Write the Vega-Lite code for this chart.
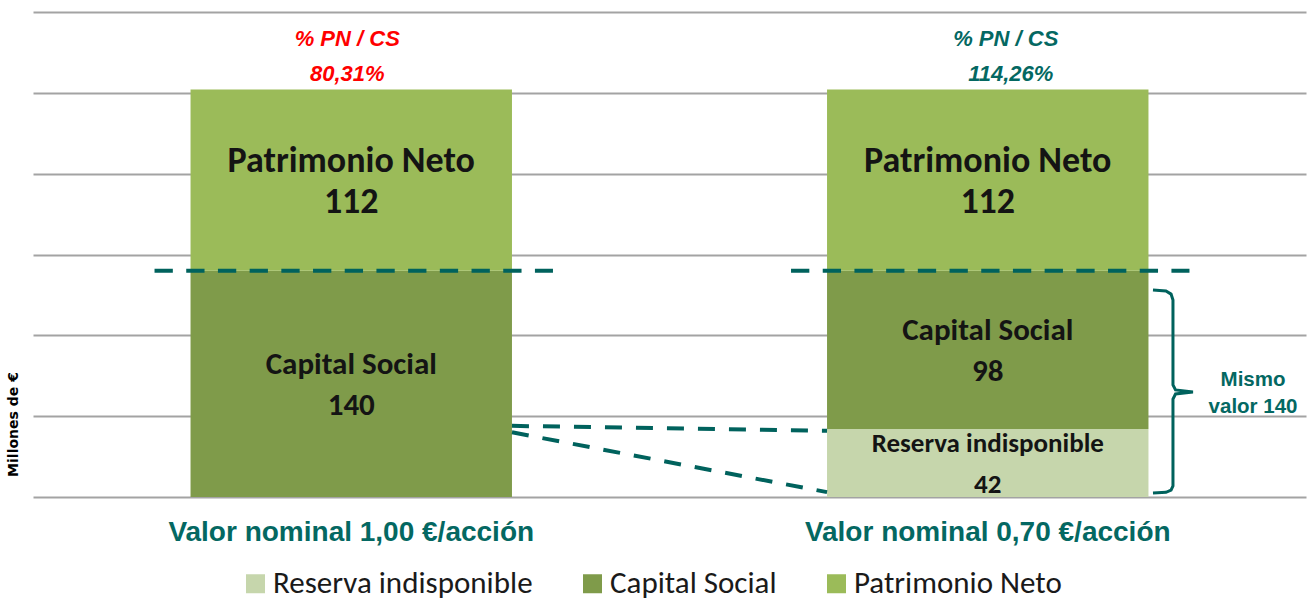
{
  "$schema": "https://vega.github.io/schema/vega-lite/v6.json",
  "width": 1273,
  "height": 485,
  "autosize": {"type": "none"},
  "padding": {"left": 33, "top": 12, "right": 7, "bottom": 104},
  "background": "white",
  "config": {"view": {"stroke": null}},
  "datasets": {
    "bars": [
      {"cat": "Valor nominal 1,00 €/acción", "serie": "Capital Social", "valor": 140, "ord": 2},
      {"cat": "Valor nominal 1,00 €/acción", "serie": "Patrimonio Neto", "valor": 112, "ord": 3},
      {"cat": "Valor nominal 0,70 €/acción", "serie": "Reserva indisponible", "valor": 42, "ord": 1},
      {"cat": "Valor nominal 0,70 €/acción", "serie": "Capital Social", "valor": 98, "ord": 2},
      {"cat": "Valor nominal 0,70 €/acción", "serie": "Patrimonio Neto", "valor": 112, "ord": 3}
    ],
    "ratios": [
      {"cat": "Valor nominal 1,00 €/acción", "ratio": "80,31%"},
      {"cat": "Valor nominal 0,70 €/acción", "ratio": "114,26%"}
    ],
    "cortes": [
      {"cat": "Valor nominal 1,00 €/acción", "capital": 140},
      {"cat": "Valor nominal 0,70 €/acción", "capital": 140}
    ],
    "conectores": [
      {"desde": "Valor nominal 1,00 €/acción", "hasta": "Valor nominal 0,70 €/acción", "y_desde": 44, "y_hasta": 41},
      {"desde": "Valor nominal 1,00 €/acción", "hasta": "Valor nominal 0,70 €/acción", "y_desde": 40, "y_hasta": 3}
    ],
    "llave": [
      {"paso": 1, "bx": 0.8798, "by": 128.0},
      {"paso": 2, "bx": 0.8900, "by": 127.4},
      {"paso": 3, "bx": 0.8940, "by": 125.5},
      {"paso": 4, "bx": 0.8955, "by": 121.8},
      {"paso": 5, "bx": 0.8955, "by": 69.3},
      {"paso": 6, "bx": 0.8975, "by": 66.2},
      {"paso": 7, "bx": 0.9112, "by": 64.9},
      {"paso": 8, "bx": 0.8975, "by": 63.7},
      {"paso": 9, "bx": 0.8955, "by": 60.6},
      {"paso": 10, "bx": 0.8955, "by": 6.8},
      {"paso": 11, "bx": 0.8940, "by": 4.3},
      {"paso": 12, "bx": 0.8900, "by": 2.9},
      {"paso": 13, "bx": 0.8798, "by": 2.5}
    ],
    "nota": [
      {"bx": 0.9584, "by": 72.4, "texto": "Mismo\nvalor 140"}
    ]
  },
  "layer": [
    {
      "encoding": {
        "x": {
          "field": "cat",
          "type": "nominal",
          "scale": {
            "domain": ["Valor nominal 1,00 €/acción", "Valor nominal 0,70 €/acción"],
            "paddingInner": 0.495,
            "paddingOuter": 0.2475
          },
          "axis": {
            "title": null,
            "labelAngle": 0,
            "ticks": false,
            "tickSize": 0,
            "domain": false,
            "labelFont": "Liberation Sans",
            "labelFontWeight": "bold",
            "labelFontSize": 28,
            "labelColor": "#046862",
            "labelBaseline": "middle",
            "labelPadding": 35,
            "labelLimit": 600
          }
        }
      },
      "layer": [
        {
          "data": {"name": "bars"},
          "mark": {"type": "bar"},
          "encoding": {
            "y": {
              "field": "valor",
              "type": "quantitative",
              "stack": "zero",
              "scale": {"domain": [0, 300], "nice": false},
              "axis": {
                "values": [0, 50, 100, 150, 200, 250, 300],
                "grid": true,
                "gridColor": "#a3a3a3",
                "gridWidth": 2,
                "labels": false,
                "ticks": false,
                "domain": false,
                "title": "Millones de €",
                "titleFont": "DejaVu Sans",
                "titleFontWeight": "bold",
                "titleFontSize": 14,
                "titleColor": "#000000",
                "titleAngle": 270,
                "titleBaseline": "middle",
                "titleX": -20,
                "titleY": 412
              }
            },
            "color": {
              "field": "serie",
              "type": "nominal",
              "scale": {
                "domain": ["Reserva indisponible", "Capital Social", "Patrimonio Neto"],
                "range": ["#c6d6ac", "#7f9b4a", "#9bbb59"]
              },
              "legend": {
                "title": null,
                "orient": "none",
                "direction": "horizontal",
                "legendX": 207,
                "legendY": 556,
                "symbolType": "square",
                "symbolSize": 361,
                "symbolStrokeWidth": 0,
                "labelFont": "Carlito, Lato",
                "labelFontSize": 31,
                "labelColor": "#1a1a1a",
                "labelOffset": 2,
                "columnPadding": 44,
                "labelLimit": 400
              }
            },
            "order": {"field": "ord", "type": "quantitative"}
          }
        },
        {
          "data": {"name": "bars"},
          "mark": {"type": "text", "font": "Carlito, Lato", "fontWeight": "bold", "color": "#141414", "baseline": "middle", "dy": -19},
          "encoding": {
            "y": {"field": "valor", "type": "quantitative", "stack": "zero", "bandPosition": 0.5},
            "detail": {"field": "serie"},
            "order": {"field": "ord", "type": "quantitative"},
            "text": {"field": "serie"},
            "size": {
              "field": "ord",
              "type": "quantitative",
              "scale": {"type": "linear", "domain": [1, 2, 3], "range": [27, 31, 36], "zero": false},
              "legend": null
            }
          }
        },
        {
          "data": {"name": "bars"},
          "mark": {"type": "text", "font": "Carlito, Lato", "fontWeight": "bold", "color": "#141414", "baseline": "middle", "dy": 22},
          "encoding": {
            "y": {"field": "valor", "type": "quantitative", "stack": "zero", "bandPosition": 0.5},
            "detail": {"field": "serie"},
            "order": {"field": "ord", "type": "quantitative"},
            "text": {"field": "valor", "type": "quantitative"},
            "size": {
              "field": "ord",
              "type": "quantitative",
              "scale": {"type": "linear", "domain": [1, 2, 3], "range": [27, 31, 36], "zero": false},
              "legend": null
            }
          }
        },
        {
          "data": {"name": "ratios"},
          "transform": [{"filter": "datum.cat === 'Valor nominal 1,00 €/acción'"}],
          "mark": {"type": "text", "font": "Liberation Sans", "fontWeight": "bold", "fontStyle": "italic", "fontSize": 22, "color": "#ff0000", "baseline": "middle", "dy": 27, "dx": -4},
          "encoding": {"y": {"datum": 300}, "text": {"value": "% PN / CS"}}
        },
        {
          "data": {"name": "ratios"},
          "transform": [{"filter": "datum.cat === 'Valor nominal 1,00 €/acción'"}],
          "mark": {"type": "text", "font": "Liberation Sans", "fontWeight": "bold", "fontStyle": "italic", "fontSize": 22, "color": "#ff0000", "baseline": "middle", "dy": 62, "dx": -4},
          "encoding": {"y": {"datum": 300}, "text": {"field": "ratio"}}
        },
        {
          "data": {"name": "ratios"},
          "transform": [{"filter": "datum.cat === 'Valor nominal 0,70 €/acción'"}],
          "mark": {"type": "text", "font": "Liberation Sans", "fontWeight": "bold", "fontStyle": "italic", "fontSize": 22, "color": "#046862", "baseline": "middle", "dy": 27, "dx": 18},
          "encoding": {"y": {"datum": 300}, "text": {"value": "% PN / CS"}}
        },
        {
          "data": {"name": "ratios"},
          "transform": [{"filter": "datum.cat === 'Valor nominal 0,70 €/acción'"}],
          "mark": {"type": "text", "font": "Liberation Sans", "fontWeight": "bold", "fontStyle": "italic", "fontSize": 22, "color": "#046862", "baseline": "middle", "dy": 62, "dx": 23},
          "encoding": {"y": {"datum": 300}, "text": {"field": "ratio"}}
        },
        {
          "data": {"name": "cortes"},
          "mark": {"type": "rule", "color": "#00625d", "strokeWidth": 4, "strokeDash": [18.3, 13.4], "xOffset": -36, "x2Offset": 41},
          "encoding": {
            "x": {"field": "cat", "type": "nominal", "bandPosition": 0},
            "x2": {"field": "cat", "bandPosition": 1},
            "y": {"field": "capital", "type": "quantitative"}
          }
        },
        {
          "data": {"name": "conectores"},
          "mark": {"type": "rule", "color": "#00625d", "strokeWidth": 4, "strokeDash": [17, 14]},
          "encoding": {
            "x": {"field": "desde", "type": "nominal", "bandPosition": 1},
            "x2": {"field": "hasta", "bandPosition": 0},
            "y": {"field": "y_desde", "type": "quantitative"},
            "y2": {"field": "y_hasta"}
          }
        }
      ]
    },
    {
      "layer": [
        {
          "data": {"name": "llave"},
          "mark": {"type": "line", "color": "#00625d", "strokeWidth": 3, "interpolate": "linear"},
          "encoding": {
            "x": {"field": "bx", "type": "quantitative", "scale": {"domain": [0, 1], "nice": false, "zero": false}, "axis": null},
            "y": {"field": "by", "type": "quantitative"},
            "order": {"field": "paso", "type": "quantitative"}
          }
        },
        {
          "data": {"name": "nota"},
          "mark": {"type": "text", "font": "Liberation Sans", "fontWeight": "bold", "fontSize": 20.5, "color": "#046862", "baseline": "middle", "lineBreak": "\n", "lineHeight": 27},
          "encoding": {
            "x": {"field": "bx", "type": "quantitative", "scale": {"domain": [0, 1], "nice": false, "zero": false}, "axis": null},
            "y": {"field": "by", "type": "quantitative"},
            "text": {"field": "texto"}
          }
        }
      ]
    }
  ],
  "resolve": {"scale": {"x": "independent"}}
}
